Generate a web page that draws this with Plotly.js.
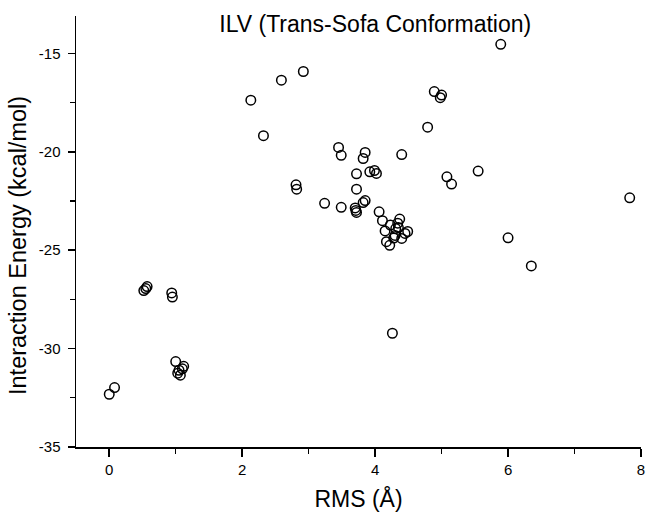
<!DOCTYPE html>
<html>
<head>
<meta charset="utf-8">
<script src="https://cdn.plot.ly/plotly-3.0.1.min.js"></script>
<style>html,body{margin:0;padding:0;background:#fff;}#chart{width:647px;height:512px;}</style>
</head>
<body>
<div id="chart"></div>
<script>
// RMS deviation (Å)
const rms = [
  0.00, 0.08,
  0.52, 0.55, 0.57, 0.94, 0.95,
  1.00, 1.12, 1.05, 1.03, 1.07, 1.10,
  2.13, 2.32, 2.59, 2.92, 2.81, 2.82,
  3.24, 3.45, 3.49, 3.49,
  3.72, 3.72, 3.70, 3.71, 3.72, 3.82, 3.85, 3.85, 3.82,
  3.92, 3.99, 4.02, 4.40, 4.06, 4.11,
  4.37, 4.34, 4.23, 4.31, 4.15, 4.49, 4.45, 4.40, 4.28, 4.17, 4.22, 4.35, 4.30,
  4.26,
  4.79, 4.89, 5.00, 4.98, 5.89,
  5.08, 5.15, 5.55, 6.00, 6.35, 7.83
];
// Interaction energy (kcal/mol)
const energy = [
  -32.32, -31.98,
  -27.05, -26.95, -26.85, -27.17, -27.38,
  -30.66, -30.90, -31.10, -31.25, -31.35, -31.03,
  -17.38, -19.18, -16.36, -15.92, -21.68, -21.90,
  -22.62, -19.78, -20.18, -22.82,
  -21.12, -21.90, -22.85, -22.98, -23.08, -22.58, -22.48, -20.03, -20.34,
  -21.02, -20.95, -21.10, -20.14, -23.05, -23.50,
  -23.42, -23.63, -23.72, -23.90, -24.02, -24.05, -24.15, -24.40, -24.38, -24.57, -24.75, -23.85, -24.25,
  -29.22,
  -18.75, -16.94, -17.12, -17.25, -14.54,
  -21.27, -21.64, -20.98, -24.37, -25.80, -22.34
];
const xTickVals = [0, 2, 4, 6, 8];
const xTickText = ["0", "2", "4", "6", "8"];
const yTickVals = [-35, -30, -25, -20, -15];
const yTickText = ["-35", "-30", "-25", "-20", "-15"];
const chartTitle = "ILV (Trans-Sofa Conformation)";
const xTitle = "RMS (Å)";
const yTitle = "Interaction Energy (kcal/mol)";

const font = "Liberation Sans, Arial, Helvetica, sans-serif";

const trace = {
  x: rms, y: energy, type: "scatter", mode: "markers",
  marker: {symbol: "circle-open", size: 9.5, color: "#000", line: {width: 1.5, color: "#000"}},
  hoverinfo: "x+y"
};

const layout = {
  width: 647, height: 512,
  margin: {l: 76, r: 6, t: 16, b: 65},
  paper_bgcolor: "#fff", plot_bgcolor: "#fff",
  showlegend: false,
  font: {family: font, color: "#000", size: 14},
  title: {text: chartTitle, font: {family: font, size: 23, color: "#000"},
          x: 0.58, xanchor: "center", y: 0.953, yanchor: "middle"},
  xaxis: {
    range: [-0.5, 8], showgrid: false, zeroline: false,
    showline: true, linecolor: "#000", linewidth: 1.5,
    ticks: "outside", ticklen: 8, tickwidth: 1.5, tickcolor: "#000",
    tickmode: "array", tickvals: xTickVals, ticktext: xTickText,
    tickfont: {family: font, size: 15, color: "#000"},
    minor: {dtick: 1, tick0: 1, ticks: "outside", ticklen: 5, tickwidth: 1.2, tickcolor: "#000"},
    title: {text: xTitle, font: {family: font, size: 23, color: "#000"}, standoff: 14}
  },
  yaxis: {
    range: [-35, -13.1], showgrid: false, zeroline: false,
    showline: true, linecolor: "#000", linewidth: 1.5,
    ticks: "outside", ticklen: 7, tickwidth: 1.5, tickcolor: "#000",
    ticklabelstandoff: 4,
    tickmode: "array", tickvals: yTickVals, ticktext: yTickText,
    tickfont: {family: font, size: 15, color: "#000"},
    minor: {dtick: 2.5, tick0: -35, ticks: "outside", ticklen: 5, tickwidth: 1.2, tickcolor: "#000"}
  },
  annotations: [{
    text: yTitle, xref: "paper", yref: "paper",
    x: (18 - 76) / 565, y: (447 - 246) / 431,
    xanchor: "center", yanchor: "middle", textangle: -90, showarrow: false,
    font: {family: font, size: 23.5, color: "#000"}
  }]
};

Plotly.newPlot("chart", [trace], layout, {staticPlot: true, displayModeBar: false});
</script>
</body>
</html>
